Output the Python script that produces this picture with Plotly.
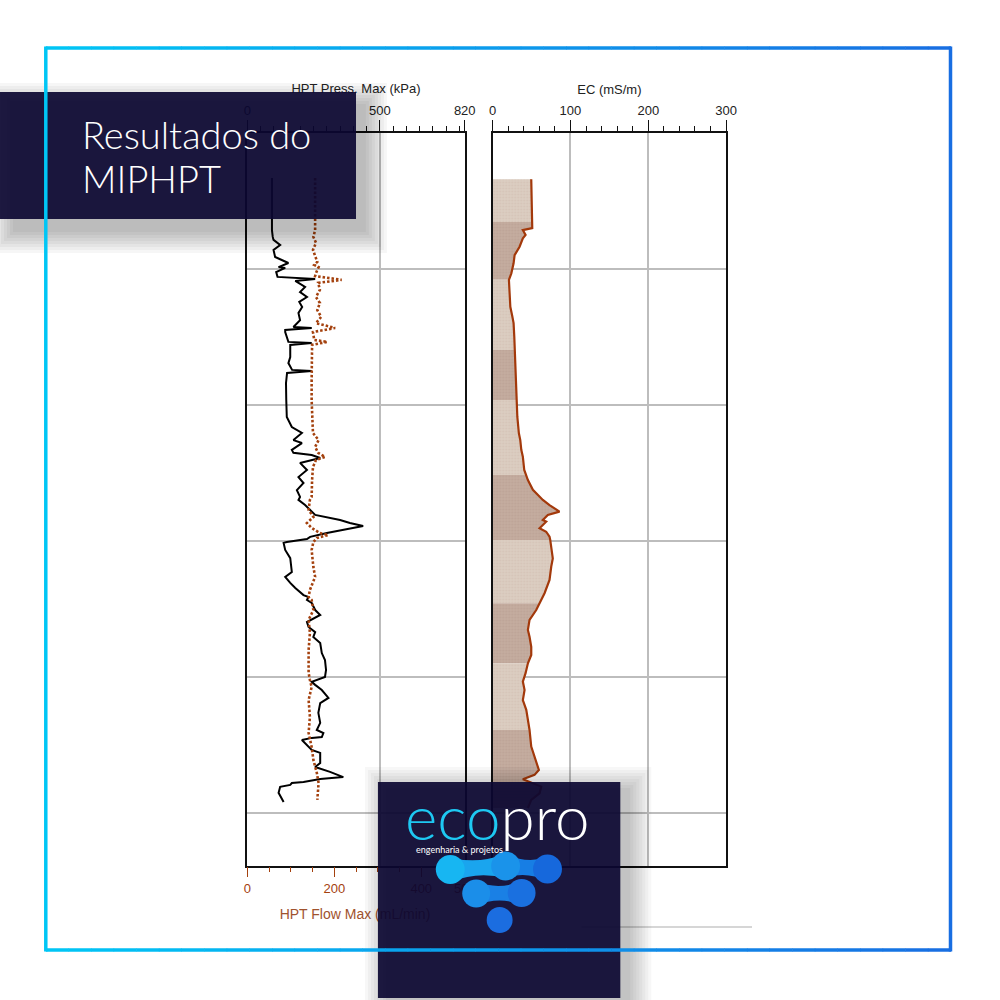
import math
import numpy as np
import plotly.graph_objects as go

# ---------------- data ----------------
# HPT pressure (kPa) vs depth (ft)
P_DEPTH = [1.65, 3.57, 3.82, 3.93, 4.12, 4.30, 4.56, 4.78, 4.93, 4.96,
           5.11, 5.29, 5.37, 5.44, 5.66, 5.85, 6.03, 6.21, 6.40, 6.62,
           6.88, 7.13, 7.17, 7.24, 7.32, 7.68, 7.72, 7.79, 8.24, 8.46,
           8.71, 8.75, 8.82, 9.19, 9.82, 10.44, 10.81, 11.03, 11.29, 11.40,
           11.65, 11.76, 11.84, 11.95, 12.13, 12.39, 12.65, 12.87, 13.13, 13.38,
           13.49, 13.68, 13.86, 14.04, 14.23, 14.34, 14.45, 14.60, 14.71, 14.85,
           14.93, 15.04, 15.07, 15.33, 15.63, 16.14, 16.32, 16.54, 16.73, 16.99,
           17.06, 17.17, 17.28, 17.54, 17.72, 17.98, 18.16, 18.35, 18.53, 18.75,
           19.12, 19.38, 19.74, 20.00, 20.18, 20.29, 20.48, 20.77, 20.96, 21.32,
           21.69, 21.95, 22.06, 22.21, 22.24, 22.32, 22.50, 22.68, 22.79, 23.16,
           23.31, 23.49, 23.68, 23.75, 23.86, 23.90, 23.97, 24.04, 24.26, 24.60]
PRESSURE = [93, 93, 96, 99, 124, 99, 105, 155, 118, 143,
            109, 114, 256, 181, 218, 199, 225, 196, 207, 193,
            199, 174, 243, 143, 143, 155, 243, 162, 162, 155,
            169, 243, 150, 146, 147, 149, 168, 206, 174, 206,
            168, 174, 243, 275, 199, 225, 193, 212, 187, 199,
            193, 218, 237, 256, 350, 387, 437, 350, 300, 237,
            225, 149, 137, 143, 162, 168, 143, 162, 181, 212,
            231, 225, 243, 256, 275, 225, 231, 256, 249, 275,
            281, 293, 297, 293, 243, 256, 281, 306, 275, 268,
            275, 262, 287, 281, 243, 206, 225, 243, 275, 275,
            256, 312, 362, 275, 212, 168, 162, 124, 118, 137]

# HPT flow (mL/min) vs depth (ft)
F_DEPTH = [1.65, 3.57, 3.82, 4.04, 4.30, 4.56, 4.74, 4.85, 4.93, 5.11,
           5.26, 5.40, 5.51, 5.77, 6.03, 6.25, 6.51, 6.76, 6.99, 7.17,
           7.32, 7.61, 7.68, 7.79, 8.35, 9.08, 9.82, 10.55, 11.03, 11.29,
           11.54, 11.76, 11.91, 12.02, 12.28, 12.76, 13.38, 13.49, 13.86, 14.12,
           14.34, 14.52, 14.71, 14.78, 14.89, 15.04, 15.33, 15.96, 16.32, 16.80,
           17.06, 17.17, 17.54, 17.90, 18.38, 19.01, 19.85, 20.11, 20.37, 20.85,
           21.47, 22.06, 22.57, 23.05, 23.53, 23.90, 24.52]
FLOW = [156, 156, 152, 158, 151, 156, 161, 154, 164, 159,
        156, 217, 163, 167, 158, 167, 161, 170, 158, 202,
        151, 154, 184, 149, 148, 148, 148, 149, 151, 164,
        156, 163, 179, 158, 151, 149, 148, 144, 141, 152,
        137, 148, 167, 186, 160, 152, 148, 152, 156, 144,
        141, 148, 152, 141, 144, 141, 141, 144, 148, 141,
        144, 141, 148, 152, 160, 164, 161]

# EC (mS/m) vs depth (ft)
EC_DEPTH = [1.70, 3.27, 3.50, 3.57, 3.75, 3.87, 4.18, 4.49, 4.79, 5.16,
            5.40, 5.89, 6.39, 6.75, 6.99, 7.49, 7.98, 8.59, 9.20, 9.82,
            10.43, 11.04, 11.29, 11.65, 11.90, 12.39, 12.57, 12.76, 13.12, 13.43,
            13.49, 13.68, 13.92, 14.04, 14.17, 14.23, 14.29, 14.53, 14.66, 14.84,
            14.96, 15.21, 15.64, 15.94, 16.43, 16.92, 17.29, 17.54, 17.90, 18.27,
            18.52, 18.89, 19.19, 19.50, 19.86, 20.17, 20.48, 20.85, 21.21, 21.58,
            21.95, 22.56, 22.93, 23.42, 23.60, 23.76, 24.03, 24.28, 24.52, 24.82]
EC = [49.6, 50.3, 50.9, 38.8, 42.3, 38.8, 34.6, 28.2, 26.9, 24.0,
      20.9, 21.8, 22.7, 25.3, 26.9, 27.8, 28.6, 29.5, 30.4, 31.2,
      31.7, 33.7, 35.5, 36.8, 38.8, 40.6, 43.0, 45.3, 51.7, 62.4,
      64.5, 73.1, 85.9, 70.9, 66.7, 64.5, 68.8, 60.3, 68.8, 73.1,
      74.0, 75.3, 77.3, 75.3, 73.1, 66.7, 60.3, 56.0, 47.4, 45.3,
      47.4, 49.6, 49.6, 45.3, 42.3, 38.8, 41.0, 38.8, 43.2, 45.3,
      47.4, 49.6, 53.8, 59.4, 53.8, 38.8, 62.4, 60.3, 49.6, 45.3]

# EC fill bands (depth intervals, shade)
BAND_TOP = [1.70, 3.27, 5.40, 7.98, 9.82, 12.57, 14.96, 17.29, 19.50, 21.95]
BAND_BOTTOM = [3.27, 5.40, 7.98, 9.82, 12.57, 14.96, 17.29, 19.50, 21.95, 24.82]
BAND_SHADE = ["light", "dark", "light", "dark", "light", "dark", "light", "dark", "light", "dark"]

PRESS_TICKS = [0, 500, 820]
FLOW_TICKS = [0, 200, 400, 500]
EC_TICKS = [0, 100, 200, 300]

# ---------------- figure ----------------
W, H = 1000, 1000
BLACK_LINE = "#111111"
GRID = "#bdbdbd"
BROWN = "#a4410e"
EC_LINE = "#a3390b"
TICKFONT = dict(family="Liberation Sans, Arial, sans-serif", size=13, color="#222222")

# horizontal placement helper (page pixel -> paper fraction, compensating the
# small horizontal offset/scale observed in the rendered page)
X_OFF, X_SPAN = 3.1, 987.5


def px(x):
    return (x - X_OFF) / X_SPAN


def py(y):
    return 1 - y / H


fig = go.Figure()

fig.add_trace(go.Scatter(x=PRESSURE, y=P_DEPTH, xaxis="x", yaxis="y", mode="lines",
                         line=dict(color="black", width=2), showlegend=False, hoverinfo="skip"))
fig.add_trace(go.Scatter(x=FLOW, y=F_DEPTH, xaxis="x2", yaxis="y", mode="lines",
                         line=dict(color=BROWN, width=2.6, dash="2.5px,2px"),
                         showlegend=False, hoverinfo="skip"))

ec_d = np.array(EC_DEPTH)
ec_v = np.array(EC)
shade_col = {"light": "#dccdc1", "dark": "#c4ac9f"}
shade_fg = {"light": "#cbb9ab", "dark": "#b3998b"}
for top, bot, sh in zip(BAND_TOP, BAND_BOTTOM, BAND_SHADE):
    m = (ec_d >= top - 1e-9) & (ec_d <= bot + 1e-9)
    fig.add_trace(go.Scatter(x=ec_v[m], y=ec_d[m], xaxis="x3", yaxis="y2", mode="none",
                             fill="tozerox", fillcolor=shade_col[sh],
                             fillpattern=dict(shape=".", size=3, solidity=0.3,
                                              bgcolor=shade_col[sh], fgcolor=shade_fg[sh]),
                             showlegend=False, hoverinfo="skip"))
fig.add_trace(go.Scatter(x=EC, y=EC_DEPTH, xaxis="x3", yaxis="y2", mode="lines",
                         line=dict(color=EC_LINE, width=2.2), showlegend=False, hoverinfo="skip"))

ydom = [1 - 866 / H, 1 - 133 / H]
common_y = dict(domain=ydom, range=[26.95, 0], showticklabels=False, ticks="",
                showgrid=True, gridcolor=GRID, gridwidth=1.5, tick0=0, dtick=5,
                showline=True, linecolor=BLACK_LINE, linewidth=1.6, mirror=True, zeroline=False)

fig.update_layout(
    width=W, height=H, autosize=False, margin=dict(l=0, r=0, t=0, b=0, pad=0),
    paper_bgcolor="white", plot_bgcolor="white", showlegend=False,
    xaxis=dict(domain=[px(247), px(465)], range=[0, 820], side="top", anchor="y",
               tickmode="array", tickvals=PRESS_TICKS, ticktext=[str(v) for v in PRESS_TICKS],
               ticks="outside", ticklen=11, tickwidth=1.3, tickcolor=BLACK_LINE,
               showline=True, linecolor=BLACK_LINE, linewidth=1.6, mirror=True,
               showgrid=True, gridcolor=GRID, gridwidth=1.5, zeroline=False, tickfont=TICKFONT,
               minor=dict(tickmode="linear", tick0=0, dtick=50, ticks="outside", ticklen=5,
                          tickwidth=1.2, tickcolor=BLACK_LINE, showgrid=False)),
    xaxis2=dict(domain=[px(247), px(465)], range=[0, 500], side="bottom", anchor="y",
                overlaying="x", tickmode="array", tickvals=FLOW_TICKS,
                ticktext=[str(v) for v in FLOW_TICKS],
                ticks="outside", ticklen=10, tickwidth=1.3, tickcolor=BROWN,
                showline=False, showgrid=False, zeroline=False,
                tickfont=dict(family="Liberation Sans, Arial, sans-serif", size=13, color=BROWN),
                minor=dict(tickmode="linear", tick0=0, dtick=50, ticks="outside", ticklen=5,
                           tickwidth=1.2, tickcolor=BROWN, showgrid=False)),
    yaxis=dict(anchor="x", **common_y),
    xaxis3=dict(domain=[px(493), px(727)], range=[0, 300], side="top", anchor="y2",
                tickmode="array", tickvals=EC_TICKS, ticktext=[str(v) for v in EC_TICKS],
                ticks="outside", ticklen=11, tickwidth=1.3, tickcolor=BLACK_LINE,
                showline=True, linecolor=BLACK_LINE, linewidth=1.6, mirror=True,
                showgrid=True, gridcolor=GRID, gridwidth=1.5, zeroline=False, tickfont=TICKFONT,
                minor=dict(tickmode="linear", tick0=0, dtick=20, ticks="outside", ticklen=5,
                           tickwidth=1.2, tickcolor=BLACK_LINE, showgrid=False)),
    yaxis2=dict(anchor="x3", **common_y),
)

# ---------------- decoration (shapes / annotations) ----------------
shapes = []


def rect(x0, y0, x1, y1, **kw):
    d = dict(type="rect", xref="paper", yref="paper", x0=px(x0), x1=px(x1),
             y0=py(y1), y1=py(y0), layer="above")
    d.update(kw)
    shapes.append(d)


def seg(x0, y0, x1, y1, color, width):
    shapes.append(dict(type="line", xref="paper", yref="paper", x0=px(x0), y0=py(y0),
                       x1=px(x1), y1=py(y1), layer="above", line=dict(color=color, width=width)))


NONE = dict(width=0, color="rgba(0,0,0,0)")

# axis titles (as shape labels so the boxes can overlap them)
rect(256, 79, 456, 95, line=NONE, fillcolor="rgba(0,0,0,0)",
     label=dict(text="HPT Press. Max (kPa)", textposition="middle center",
                font=dict(family="Liberation Sans, Arial, sans-serif", size=13, color="#222222")))
rect(510, 80, 710, 96, line=NONE, fillcolor="rgba(0,0,0,0)",
     label=dict(text="EC (mS/m)", textposition="middle center",
                font=dict(family="Liberation Sans, Arial, sans-serif", size=13, color="#222222")))
rect(255, 904, 455, 921, line=NONE, fillcolor="rgba(0,0,0,0)",
     label=dict(text="HPT Flow Max (mL/min)", textposition="middle center",
                font=dict(family="Liberation Sans, Arial, sans-serif", size=14, color="#a0522d")))

# thin grey line bottom right
seg(582, 927, 753, 927, "#c8c8c8", 1.5)

BOX = "#0c0832"
# title box shadow + box
for e in range(0, 22, 3):
    rect(12 - e, 104 - e, 366 + e, 232 + e, line=NONE, fillcolor="black", opacity=0.035)
rect(-5, 92, 356, 219, line=NONE, fillcolor=BOX, opacity=0.92)

# logo box shadow + box
for e in range(0, 22, 3):
    rect(386 - e, 788 - e, 631 + e, 1004 + e, line=NONE, fillcolor="black", opacity=0.03)
rect(378, 782, 621, 998, line=NONE, fillcolor=BOX, opacity=0.92)

# logo dots
DOTS = [(450.5, 869.5, 14.5, "#17b6f2"), (506.0, 866.0, 14.5, "#1a93ea"),
        (548.0, 869.0, 14.5, "#1668dc"), (476.5, 893.5, 14.0, "#1b8ee9"),
        (522.0, 893.0, 14.0, "#1a70e0"), (500.0, 920.0, 13.0, "#1b6de0")]


def bridge(a, b, color):
    x1, y1, r1, _ = a
    x2, y2, r2, _ = b
    dx, dy = x2 - x1, y2 - y1
    L = math.hypot(dx, dy)
    nx, ny = -dy / L, dx / L
    r = min(r1, r2)
    he, hq = 0.85 * r, 0.2 * r
    mx, my = (x1 + x2) / 2, (y1 + y2) / 2
    A = (x1 + nx * he, y1 + ny * he)
    B = (x2 + nx * he, y2 + ny * he)
    C = (x2 - nx * he, y2 - ny * he)
    D = (x1 - nx * he, y1 - ny * he)
    Q1 = (mx + nx * hq, my + ny * hq)
    Q2 = (mx - nx * hq, my - ny * hq)
    f = lambda p: f"{px(p[0]):.5f},{py(p[1]):.5f}"
    path = f"M {f(A)} Q {f(Q1)} {f(B)} L {f(C)} Q {f(Q2)} {f(D)} Z"
    shapes.append(dict(type="path", xref="paper", yref="paper", path=path, layer="above",
                       fillcolor=color, line=NONE))


bridge(DOTS[0], DOTS[1], "#1aa5ee")
bridge(DOTS[1], DOTS[2], "#177ee4")
bridge(DOTS[3], DOTS[4], "#1a80e5")
for (cx, cy, r, col) in DOTS:
    shapes.append(dict(type="circle", xref="paper", yref="paper", x0=px(cx - r), x1=px(cx + r),
                       y0=py(cy + r), y1=py(cy - r), layer="above", fillcolor=col, line=NONE))

# outer frame with gradient
C0 = (0, 198, 245)
C1 = (24, 110, 226)


def mix(t):
    return "rgb(%d,%d,%d)" % tuple(round(C0[i] + (C1[i] - C0[i]) * t) for i in range(3))


N = 40
for k in range(N):
    xa = 45 + (952 - 45) * k / N
    xb = 45 + (952 - 45) * (k + 1) / N + 0.5
    t = (k + 0.5) / N
    seg(xa, 48, xb, 48, mix(t), 3.5)
    seg(xa, 950, xb, 950, mix(t), 3.5)
seg(45, 46.5, 45, 951.5, mix(0), 3.5)
seg(952, 46.5, 952, 951.5, mix(1), 3.5)

fig.update_layout(shapes=shapes)

annotations = [
    dict(text="Resultados do", x=px(79), y=py(134), xref="paper", yref="paper",
         xanchor="left", yanchor="middle", showarrow=False,
         font=dict(family="Lato, sans-serif", size=38, color="white", weight=300)),
    dict(text="MIPHPT", x=px(79), y=py(178), xref="paper", yref="paper",
         xanchor="left", yanchor="middle", showarrow=False,
         font=dict(family="Lato, sans-serif", size=38, color="white", weight=300)),
    dict(text="<span style='color:#1ec8f2'>eco</span>pro", x=px(498), y=py(816),
         xref="paper", yref="paper", xanchor="center", yanchor="middle", showarrow=False,
         font=dict(family="Lato, sans-serif", size=62, color="white", weight=300)),
    dict(text="engenharia &amp; projetos", x=px(460), y=py(849), xref="paper", yref="paper",
         xanchor="center", yanchor="middle", showarrow=False,
         font=dict(family="Lato, sans-serif", size=9, color="white")),
]
fig.update_layout(annotations=annotations)

fig.write_html(
    "out.html",
    config={"displayModeBar": False, "responsive": False},
    default_width="1000px", default_height="1000px",
    post_script=("document.body.style.margin='0';document.body.style.overflow='hidden';"
                 "Plotly.relayout('{plot_id}', {width: 1000, height: 1000});"),
)
